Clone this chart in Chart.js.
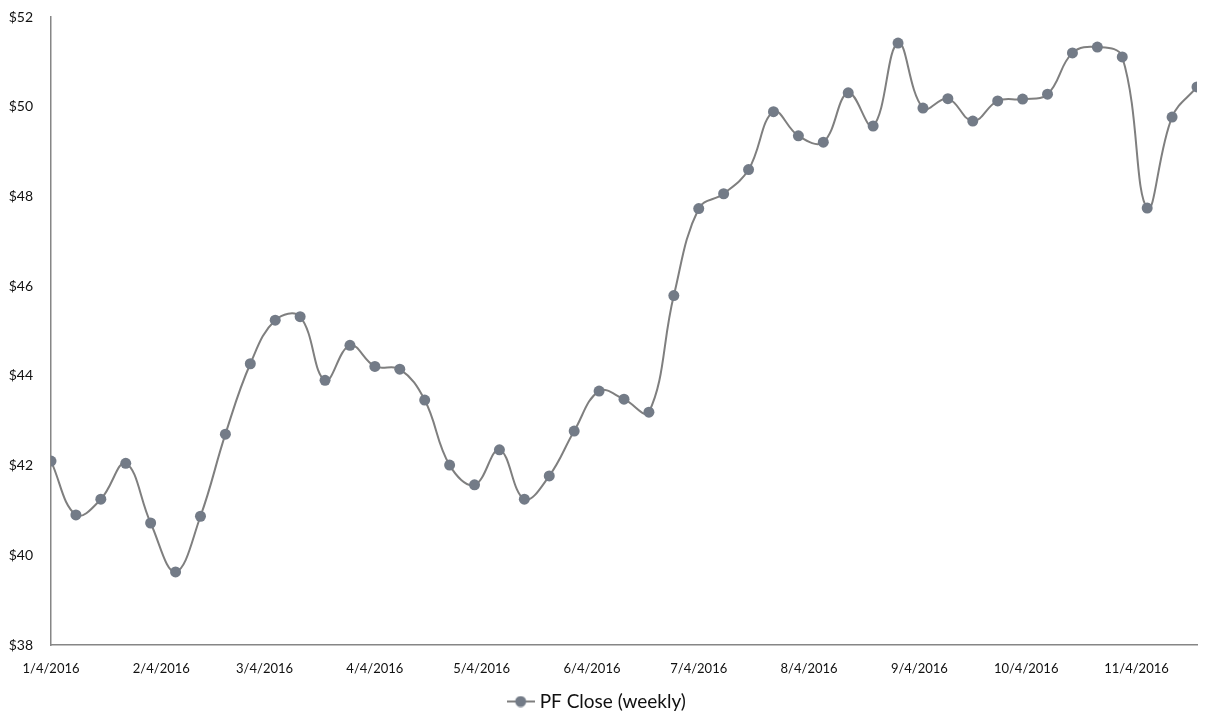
<!DOCTYPE html>
<html>
<head>
<meta charset="utf-8">
<title>PF Close (weekly)</title>
<script src="https://cdn.jsdelivr.net/npm/chart.js@4/dist/chart.umd.min.js"></script>
<style>
    html, body { margin: 0; padding: 0; background: #fff; }
    #wrap { width: 1211px; height: 728px; }
</style>
</head>
<body>
<div id="wrap"><canvas id="priceChart" width="1211" height="728"></canvas></div>
<script>
// weekly closes
const weekDates = [
    '2016-01-04', '2016-01-11', '2016-01-18', '2016-01-25', '2016-02-01', '2016-02-08',
    '2016-02-15', '2016-02-22', '2016-02-29', '2016-03-07', '2016-03-14', '2016-03-21',
    '2016-03-28', '2016-04-04', '2016-04-11', '2016-04-18', '2016-04-25', '2016-05-02',
    '2016-05-09', '2016-05-16', '2016-05-23', '2016-05-30', '2016-06-06', '2016-06-13',
    '2016-06-20', '2016-06-27', '2016-07-04', '2016-07-11', '2016-07-18', '2016-07-25',
    '2016-08-01', '2016-08-08', '2016-08-15', '2016-08-22', '2016-08-29', '2016-09-05',
    '2016-09-12', '2016-09-19', '2016-09-26', '2016-10-03', '2016-10-10', '2016-10-17',
    '2016-10-24', '2016-10-31', '2016-11-07', '2016-11-14', '2016-11-21'
];
const closeValues = [
    42.10, 40.90, 41.25, 42.05, 40.72, 39.63,
    40.87, 42.70, 44.27, 45.24, 45.32, 43.90,
    44.68, 44.21, 44.15, 43.46, 42.01, 41.57,
    42.35, 41.25, 41.77, 42.77, 43.66, 43.48,
    43.19, 45.79, 47.73, 48.06, 48.60, 49.89,
    49.35, 49.21, 50.31, 49.57, 51.42, 49.97,
    50.18, 49.68, 50.13, 50.17, 50.28, 51.20,
    51.33, 51.11, 47.74, 49.77, 50.44
];
const monthTicks = [
    '2016-01-04', '2016-02-04', '2016-03-04', '2016-04-04', '2016-05-04', '2016-06-04',
    '2016-07-04', '2016-08-04', '2016-09-04', '2016-10-04', '2016-11-04'
];
const yTicks = [38, 40, 42, 44, 46, 48, 50, 52];

const DAY = 86400000;
const origin = Date.UTC(2016, 0, 4);

function dayNum(s) {
    const p = s.split('-').map(Number);
    return Math.round((Date.UTC(p[0], p[1] - 1, p[2]) - origin) / DAY);
}

function fmtDay(n) {
    const d = new Date(origin + n * DAY);
    return (d.getUTCMonth() + 1) + '/' + d.getUTCDate() + '/' + d.getUTCFullYear();
}

const points = weekDates.map((d, i) => ({ x: dayNum(d), y: closeValues[i] }));
const tickDays = monthTicks.map(dayNum);

const lineColor = '#7f7f7f';
const dotColor = '#737b87';

// legend marker: short line with a dot in the middle
function legendMarker() {
    const c = document.createElement('canvas');
    c.width = 28;
    c.height = 12;
    const g = c.getContext('2d');
    g.strokeStyle = lineColor;
    g.lineWidth = 2;
    g.beginPath();
    g.moveTo(0, 6);
    g.lineTo(28, 6);
    g.stroke();
    g.fillStyle = dotColor;
    g.beginPath();
    g.arc(14, 6, 5.5, 0, Math.PI * 2);
    g.fill();
    return c;
}

const fontFamily = "Lato, 'Open Sans', sans-serif";

new Chart(document.getElementById('priceChart'), {
    type: 'line',
    data: {
        datasets: [{
            label: 'PF Close (weekly)',
            data: points,
            borderColor: lineColor,
            borderWidth: 2,
            backgroundColor: dotColor,
            pointBackgroundColor: dotColor,
            pointBorderColor: dotColor,
            pointRadius: 5.5,
            pointBorderWidth: 0,
            tension: 0.4,
            cubicInterpolationMode: 'default',
        }],
    },
    options: {
        responsive: false,
        animation: false,
        layout: {
            padding: { top: 17, right: 14, bottom: 7, left: 0 },
        },
        plugins: {
            legend: {
                position: 'bottom',
                labels: {
                    usePointStyle: true,
                    pointStyle: legendMarker(),
                    padding: 10,
                    color: '#111',
                    font: { family: fontFamily, size: 19 },
                },
            },
            tooltip: { enabled: false },
        },
        scales: {
            x: {
                type: 'linear',
                min: 0,
                max: dayNum(weekDates[weekDates.length - 1]),
                afterBuildTicks: axis => {
                    axis.ticks = tickDays.map(v => ({ value: v }));
                },
                afterFit: axis => {
                    axis.height = 37;
                    axis.paddingLeft = 0;
                    axis.paddingRight = 0;
                },
                grid: { display: false, drawTicks: false },
                border: { color: '#868686', width: 1.5 },
                ticks: {
                    autoSkip: false,
                    maxRotation: 0,
                    padding: 16,
                    color: '#111',
                    font: { family: fontFamily, size: 13 },
                    callback: v => fmtDay(v),
                },
            },
            y: {
                min: 38,
                max: 52,
                afterBuildTicks: axis => {
                    axis.ticks = yTicks.map(v => ({ value: v }));
                },
                afterFit: axis => {
                    axis.width = 51;
                    axis.paddingTop = 0;
                    axis.paddingBottom = 0;
                },
                grid: { display: false, drawTicks: false },
                border: { color: '#868686', width: 1.5 },
                ticks: {
                    padding: 18,
                    color: '#111',
                    font: { family: fontFamily, size: 14 },
                    callback: v => '$' + v,
                },
            },
        },
    },
});
</script>
</body>
</html>
